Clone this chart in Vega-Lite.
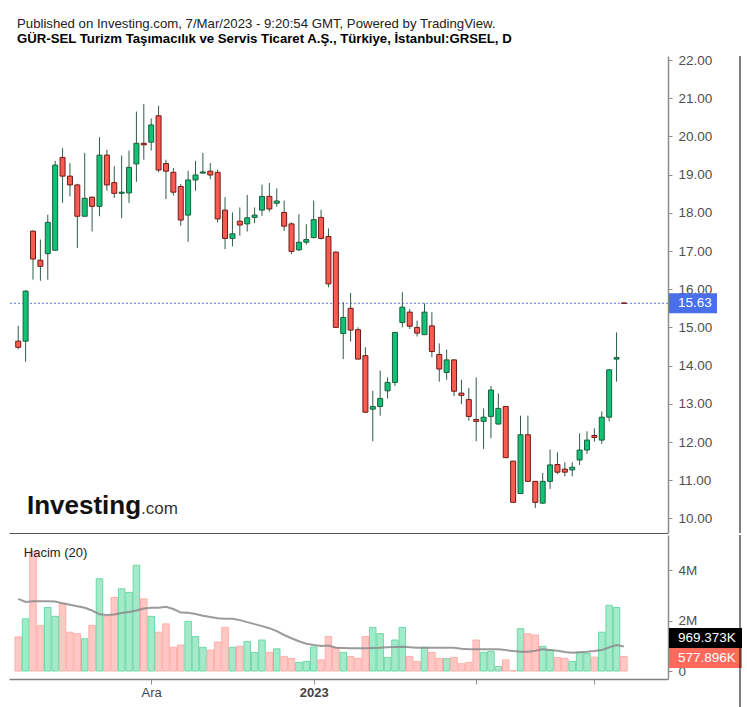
{
  "$schema": "https://vega.github.io/schema/vega-lite/v6.json",
  "padding": {"left": 8, "top": 16, "right": 6, "bottom": 9},
  "background": "#ffffff",
  "title": {
    "text": "Published on Investing.com, 7/Mar/2023 - 9:20:54 GMT, Powered by TradingView.",
    "subtitle": "GÜR-SEL Turizm Taşımacılık ve Servis Ticaret A.Ş., Türkiye, İstanbul:GRSEL, D",
    "anchor": "start", "frame": "group", "dx": 8,
    "font": "Liberation Sans", "fontSize": 13.2, "fontWeight": "normal", "color": "#222222",
    "subtitleFont": "Liberation Sans", "subtitleFontSize": 13.2, "subtitleFontWeight": "bold", "subtitleColor": "#000000",
    "subtitlePadding": 2, "offset": 7
  },
  "datasets": {
    "ohlc": [
      {"i":0,"o":14.64,"h":15.04,"l":14.43,"c":14.48,"v":1350000,"sma":2860000},
      {"i":1,"o":14.64,"h":15.97,"l":14.10,"c":15.95,"v":2070000,"sma":2740000},
      {"i":2,"o":17.52,"h":17.54,"l":16.25,"c":16.79,"v":4750000,"sma":2770000},
      {"i":3,"o":16.76,"h":17.30,"l":16.22,"c":16.60,"v":1810000,"sma":2770000},
      {"i":4,"o":16.93,"h":17.95,"l":16.25,"c":17.75,"v":2520000,"sma":2770000},
      {"i":5,"o":17.02,"h":19.36,"l":17.00,"c":19.25,"v":2170000,"sma":2760000},
      {"i":6,"o":19.45,"h":19.69,"l":18.26,"c":18.96,"v":2670000,"sma":2690000},
      {"i":7,"o":18.96,"h":19.30,"l":18.43,"c":18.73,"v":1540000,"sma":2630000},
      {"i":8,"o":18.73,"h":18.76,"l":17.08,"c":17.91,"v":1480000,"sma":2570000},
      {"i":9,"o":17.91,"h":19.57,"l":17.91,"c":18.38,"v":1280000,"sma":2510000},
      {"i":10,"o":18.41,"h":18.42,"l":17.51,"c":18.17,"v":1810000,"sma":2400000},
      {"i":11,"o":18.17,"h":19.98,"l":17.91,"c":19.51,"v":3660000,"sma":2250000},
      {"i":12,"o":19.51,"h":19.65,"l":18.58,"c":18.73,"v":2170000,"sma":2220000},
      {"i":13,"o":18.79,"h":19.22,"l":18.39,"c":18.51,"v":2920000,"sma":2240000},
      {"i":14,"o":18.51,"h":19.50,"l":17.86,"c":18.54,"v":3260000,"sma":2300000},
      {"i":15,"o":18.52,"h":19.63,"l":18.26,"c":19.19,"v":3120000,"sma":2340000},
      {"i":16,"o":19.28,"h":20.65,"l":18.81,"c":19.82,"v":4200000,"sma":2400000},
      {"i":17,"o":19.82,"h":20.85,"l":19.39,"c":19.78,"v":2860000,"sma":2480000},
      {"i":18,"o":19.85,"h":20.47,"l":19.63,"c":20.30,"v":2170000,"sma":2510000},
      {"i":19,"o":20.54,"h":20.80,"l":19.06,"c":19.12,"v":1540000,"sma":2510000},
      {"i":20,"o":19.29,"h":19.39,"l":18.36,"c":19.09,"v":1870000,"sma":2550000},
      {"i":21,"o":19.06,"h":19.17,"l":18.45,"c":18.54,"v":940000,"sma":2460000},
      {"i":22,"o":18.69,"h":18.75,"l":17.66,"c":17.81,"v":1030000,"sma":2320000},
      {"i":23,"o":17.94,"h":19.10,"l":17.24,"c":18.86,"v":1970000,"sma":2310000},
      {"i":24,"o":18.86,"h":19.36,"l":18.58,"c":18.99,"v":1370000,"sma":2260000},
      {"i":25,"o":19.04,"h":19.57,"l":19.02,"c":19.07,"v":940000,"sma":2190000},
      {"i":26,"o":19.09,"h":19.30,"l":18.88,"c":18.99,"v":830000,"sma":2140000},
      {"i":27,"o":19.06,"h":19.13,"l":17.75,"c":17.84,"v":1150000,"sma":2090000},
      {"i":28,"o":18.07,"h":18.41,"l":17.05,"c":17.33,"v":1730000,"sma":2070000},
      {"i":29,"o":17.33,"h":18.01,"l":17.12,"c":17.45,"v":940000,"sma":2070000},
      {"i":30,"o":17.78,"h":18.14,"l":17.40,"c":17.68,"v":980000,"sma":2020000},
      {"i":31,"o":17.71,"h":18.47,"l":17.51,"c":17.87,"v":1170000,"sma":1940000},
      {"i":32,"o":17.88,"h":18.14,"l":17.73,"c":17.94,"v":740000,"sma":1860000},
      {"i":33,"o":18.07,"h":18.74,"l":17.92,"c":18.43,"v":1230000,"sma":1780000},
      {"i":34,"o":18.43,"h":18.78,"l":18.03,"c":18.10,"v":740000,"sma":1700000},
      {"i":35,"o":18.25,"h":18.64,"l":18.16,"c":18.31,"v":880000,"sma":1580000},
      {"i":36,"o":18.01,"h":18.32,"l":17.53,"c":17.65,"v":580000,"sma":1430000},
      {"i":37,"o":17.71,"h":17.75,"l":16.92,"c":16.99,"v":500000,"sma":1300000},
      {"i":38,"o":17.03,"h":17.96,"l":17.00,"c":17.23,"v":340000,"sma":1180000},
      {"i":39,"o":17.23,"h":17.70,"l":17.17,"c":17.30,"v":380000,"sma":1080000},
      {"i":40,"o":17.35,"h":18.32,"l":17.33,"c":17.82,"v":950000,"sma":1030000},
      {"i":41,"o":17.88,"h":18.08,"l":17.30,"c":17.33,"v":440000,"sma":990000},
      {"i":42,"o":17.38,"h":17.59,"l":16.05,"c":16.14,"v":1370000,"sma":1010000},
      {"i":43,"o":16.97,"h":16.99,"l":15.00,"c":15.00,"v":940000,"sma":920000},
      {"i":44,"o":14.84,"h":15.66,"l":14.17,"c":15.26,"v":740000,"sma":910000},
      {"i":45,"o":15.50,"h":15.90,"l":14.63,"c":14.93,"v":580000,"sma":900000},
      {"i":46,"o":14.94,"h":15.00,"l":14.17,"c":14.17,"v":500000,"sma":900000},
      {"i":47,"o":14.26,"h":14.48,"l":12.76,"c":12.78,"v":1370000,"sma":900000},
      {"i":48,"o":12.86,"h":13.34,"l":12.02,"c":12.93,"v":1730000,"sma":910000},
      {"i":49,"o":12.93,"h":13.87,"l":12.69,"c":13.14,"v":1480000,"sma":920000},
      {"i":50,"o":13.34,"h":13.69,"l":13.14,"c":13.56,"v":540000,"sma":940000},
      {"i":51,"o":13.56,"h":14.88,"l":13.47,"c":14.87,"v":1230000,"sma":950000},
      {"i":52,"o":15.13,"h":15.92,"l":15.00,"c":15.53,"v":1730000,"sma":960000},
      {"i":53,"o":15.40,"h":15.48,"l":14.96,"c":15.03,"v":580000,"sma":940000},
      {"i":54,"o":15.00,"h":15.18,"l":14.76,"c":14.85,"v":380000,"sma":920000},
      {"i":55,"o":14.81,"h":15.63,"l":14.80,"c":15.40,"v":940000,"sma":920000},
      {"i":56,"o":15.04,"h":15.40,"l":14.22,"c":14.37,"v":740000,"sma":920000},
      {"i":57,"o":14.29,"h":14.58,"l":13.58,"c":13.91,"v":500000,"sma":920000},
      {"i":58,"o":13.82,"h":14.42,"l":13.63,"c":14.15,"v":490000,"sma":920000},
      {"i":59,"o":14.15,"h":14.16,"l":13.20,"c":13.33,"v":540000,"sma":920000},
      {"i":60,"o":13.28,"h":13.63,"l":12.99,"c":13.22,"v":290000,"sma":880000},
      {"i":61,"o":13.11,"h":13.41,"l":12.56,"c":12.67,"v":340000,"sma":860000},
      {"i":62,"o":12.59,"h":13.69,"l":12.02,"c":12.54,"v":1230000,"sma":860000},
      {"i":63,"o":12.54,"h":12.88,"l":11.82,"c":12.65,"v":740000,"sma":860000},
      {"i":64,"o":12.67,"h":13.47,"l":12.10,"c":13.36,"v":780000,"sma":860000},
      {"i":65,"o":12.47,"h":13.27,"l":12.46,"c":12.88,"v":180000,"sma":860000},
      {"i":66,"o":12.93,"h":12.94,"l":11.59,"c":11.59,"v":440000,"sma":830000},
      {"i":67,"o":11.50,"h":11.50,"l":10.42,"c":10.42,"v":10000,"sma":790000},
      {"i":68,"o":10.65,"h":12.69,"l":10.64,"c":12.19,"v":1680000,"sma":760000},
      {"i":69,"o":12.19,"h":12.69,"l":10.97,"c":10.97,"v":1480000,"sma":760000},
      {"i":70,"o":10.97,"h":10.98,"l":10.27,"c":10.42,"v":1430000,"sma":800000},
      {"i":71,"o":10.40,"h":11.19,"l":10.38,"c":10.97,"v":980000,"sma":860000},
      {"i":72,"o":10.97,"h":11.80,"l":10.77,"c":11.40,"v":830000,"sma":830000},
      {"i":73,"o":11.41,"h":11.73,"l":11.16,"c":11.21,"v":540000,"sma":800000},
      {"i":74,"o":11.29,"h":11.47,"l":11.10,"c":11.21,"v":500000,"sma":750000},
      {"i":75,"o":11.27,"h":11.47,"l":11.10,"c":11.34,"v":380000,"sma":720000},
      {"i":76,"o":11.53,"h":12.23,"l":11.40,"c":11.79,"v":740000,"sma":740000},
      {"i":77,"o":11.79,"h":12.28,"l":11.69,"c":12.05,"v":690000,"sma":760000},
      {"i":78,"o":12.17,"h":12.36,"l":12.01,"c":12.12,"v":550000,"sma":790000},
      {"i":79,"o":12.05,"h":12.80,"l":11.95,"c":12.65,"v":1540000,"sma":830000},
      {"i":80,"o":12.65,"h":13.90,"l":12.54,"c":13.89,"v":2610000,"sma":940000},
      {"i":81,"o":14.17,"h":14.87,"l":13.58,"c":14.21,"v":2520000,"sma":1030000},
      {"i":82,"o":15.64,"h":15.64,"l":15.63,"c":15.63,"v":577896,"sma":969373}
    ]
  },
  "spacing": 0,
  "vconcat": [
    {
      "width": 659,
      "height": 477,
      "data": {"name": "ohlc"},
      "layer": [
        {
          "transform": [{"filter": "datum.i == 82"}],
          "mark": {"type": "rule", "color": "#5a7ef0", "strokeDash": [2, 2], "strokeWidth": 1},
          "encoding": {
            "y": {"field": "c", "type": "quantitative", "scale": {"domain": [9.618, 22.105], "nice": false, "zero": false},
              "axis": {"orient": "right", "values": [10,11,12,13,14,15,16,17,18,19,20,21,22], "tickCount": 13, "format": ".2f", "title": null, "grid": false,
                "domainColor": "#8c8c8c", "domainWidth": 1.5, "tickColor": "#8c8c8c", "tickSize": 4, "labelColor": "#505050",
                "labelFont": "Liberation Sans", "labelFontSize": 13.5, "labelPadding": 6, "labelFlush": false, "labelOverlap": false}}
          }
        },
        {
          "mark": {"type": "rule", "color": "#2f5d47", "strokeWidth": 1},
          "encoding": {
            "x": {"field": "i", "type": "quantitative", "scale": {"domain": [-0.573, 87.29], "nice": false, "zero": false},
              "axis": {"orient": "bottom", "labels": false, "ticks": false, "title": null, "grid": false, "domainColor": "#555555", "domainWidth": 1.2}},
            "y": {"field": "l", "type": "quantitative", "scale": {"domain": [9.618, 22.105], "nice": false, "zero": false},
              "axis": {"orient": "right", "values": [10,11,12,13,14,15,16,17,18,19,20,21,22], "tickCount": 13, "format": ".2f", "title": null, "grid": false,
                "domainColor": "#8c8c8c", "domainWidth": 1.5, "tickColor": "#8c8c8c", "tickSize": 4, "labelColor": "#505050",
                "labelFont": "Liberation Sans", "labelFontSize": 13.5, "labelPadding": 6, "labelFlush": false, "labelOverlap": false}},
            "y2": {"field": "h"}
          }
        },
        {
          "mark": {"type": "bar", "size": 5, "strokeWidth": 1},
          "encoding": {
            "x": {"field": "i", "type": "quantitative"},
            "y": {"field": "o", "type": "quantitative", "scale": {"domain": [9.618, 22.105], "nice": false, "zero": false},
              "axis": {"orient": "right", "values": [10,11,12,13,14,15,16,17,18,19,20,21,22], "tickCount": 13, "format": ".2f", "title": null, "grid": false,
                "domainColor": "#8c8c8c", "domainWidth": 1.5, "tickColor": "#8c8c8c", "tickSize": 4, "labelColor": "#505050",
                "labelFont": "Liberation Sans", "labelFontSize": 13.5, "labelPadding": 6, "labelFlush": false, "labelOverlap": false}},
            "y2": {"field": "c"},
            "fill": {"condition": {"test": "datum.c >= datum.o", "value": "#10c176"}, "value": "#fa5b50"},
            "stroke": {"condition": {"test": "datum.c >= datum.o", "value": "#1c5e3e"}, "value": "#6e1b17"}
          }
        },
        {
          "transform": [{"filter": "datum.i == 82"}],
          "mark": {"type": "point", "shape": "M1,-10H49V10H1Z", "size": 4, "filled": true, "color": "#4a6fe8", "opacity": 1, "clip": false},
          "encoding": {"x": {"value": "width"}, "y": {"field": "c", "type": "quantitative"}}
        },
        {
          "transform": [{"filter": "datum.i == 82"}],
          "mark": {"type": "text", "align": "left", "baseline": "middle", "dx": 10, "color": "#ffffff", "font": "Liberation Sans", "fontSize": 13.5},
          "encoding": {"x": {"value": "width"}, "y": {"field": "c", "type": "quantitative"}, "text": {"field": "c", "type": "quantitative", "format": ".2f"}}
        },
        {
          "data": {"values": [{"t": "Investing"}]},
          "mark": {"type": "text", "align": "right", "baseline": "alphabetic", "font": "Liberation Sans", "fontSize": 26, "fontWeight": "bold", "color": "#111111"},
          "encoding": {"x": {"datum": 16.63}, "y": {"datum": 10.115}, "text": {"field": "t"}}
        },
        {
          "data": {"values": [{"t": ".com"}]},
          "mark": {"type": "text", "align": "left", "baseline": "alphabetic", "font": "Liberation Sans", "fontSize": 17, "color": "#333333"},
          "encoding": {"x": {"datum": 16.63}, "y": {"datum": 10.115}, "text": {"field": "t"}}
        },
        {
          "data": {"values": [{}]},
          "mark": {"type": "rule", "color": "#000000", "strokeWidth": 1, "clip": false, "xOffset": 72},
          "encoding": {"x": {"value": "width"}, "y": {"value": 0}, "y2": {"value": "height"}}
        }
      ]
    },
    {
      "width": 659,
      "height": 144,
      "data": {"name": "ohlc"},
      "layer": [
        {
          "mark": {"type": "bar", "size": 6.5, "strokeWidth": 1},
          "encoding": {
            "x": {"field": "i", "type": "quantitative", "scale": {"domain": [-0.573, 87.29], "nice": false, "zero": false},
              "axis": {"orient": "bottom", "values": [18, 40, 62, 78], "title": null, "grid": false,
                "labelExpr": "datum.value == 18 ? 'Ara' : datum.value == 40 ? '2023' : ''",
                "labelFontWeight": {"condition": {"test": "datum.value == 40", "value": "bold"}, "value": "normal"},
                "tickSize": 5, "tickColor": "#8c8c8c", "domainColor": "#808080", "domainWidth": 1.5,
                "labelColor": "#444444", "labelFont": "Liberation Sans", "labelFontSize": 13, "labelPadding": 2, "labelFlush": false}},
            "y": {"field": "v", "type": "quantitative", "scale": {"domain": [-317000, 5397000], "nice": false, "zero": false},
              "axis": {"orient": "right", "values": [0, 2000000, 4000000], "labelExpr": "datum.value == 0 ? '0' : format(datum.value / 1000000, 'd') + 'M'", "title": null, "grid": false,
                "domainColor": "#8c8c8c", "domainWidth": 1.5, "tickColor": "#8c8c8c", "tickSize": 4, "labelColor": "#505050",
                "labelFont": "Liberation Sans", "labelFontSize": 13.5, "labelPadding": 6, "labelFlush": false}},
            "fill": {"condition": {"test": "datum.c >= datum.o", "value": "#a5e9cb"}, "value": "#ffc8c4"},
            "stroke": {"condition": {"test": "datum.c >= datum.o", "value": "#6dd9a6"}, "value": "#ffaea8"}
          }
        },
        {
          "mark": {"type": "line", "color": "#8a8a8a", "strokeWidth": 2, "opacity": 0.85},
          "encoding": {"x": {"field": "i", "type": "quantitative"}, "y": {"field": "sma", "type": "quantitative"}}
        },
        {
          "data": {"values": [{"t": "Hacim (20)"}]},
          "mark": {"type": "text", "align": "left", "baseline": "middle", "font": "Liberation Sans", "fontSize": 13, "color": "#222222"},
          "encoding": {"x": {"datum": 0.76}, "y": {"datum": 4680000}, "text": {"field": "t"}}
        },
        {
          "transform": [{"filter": "datum.i == 82"}],
          "mark": {"type": "point", "shape": "M1,-18.5H74V1.5H1Z", "size": 4, "filled": true, "color": "#000000", "opacity": 1, "clip": false},
          "encoding": {"x": {"value": "width"}, "y": {"field": "sma", "type": "quantitative"}}
        },
        {
          "transform": [{"filter": "datum.i == 82"}, {"calculate": "format(datum.sma / 1000, '.3f') + 'K'", "as": "lbl"}],
          "mark": {"type": "text", "align": "left", "baseline": "middle", "dx": 10, "dy": -8.5, "color": "#ffffff", "font": "Liberation Sans", "fontSize": 13.5},
          "encoding": {"x": {"value": "width"}, "y": {"field": "sma", "type": "quantitative"}, "text": {"field": "lbl"}}
        },
        {
          "transform": [{"filter": "datum.i == 82"}],
          "mark": {"type": "point", "shape": "M1,-8.4H74V11.6H1Z", "size": 4, "filled": true, "color": "#ff6a5c", "opacity": 1, "clip": false},
          "encoding": {"x": {"value": "width"}, "y": {"field": "v", "type": "quantitative"}}
        },
        {
          "transform": [{"filter": "datum.i == 82"}, {"calculate": "format(datum.v / 1000, '.3f') + 'K'", "as": "lbl"}],
          "mark": {"type": "text", "align": "left", "baseline": "middle", "dx": 10, "dy": 1.5, "color": "#ffffff", "font": "Liberation Sans", "fontSize": 13.5},
          "encoding": {"x": {"value": "width"}, "y": {"field": "v", "type": "quantitative"}, "text": {"field": "lbl"}}
        },
        {
          "data": {"values": [{}]},
          "mark": {"type": "rule", "color": "#000000", "strokeWidth": 1, "clip": false, "xOffset": 72, "y2Offset": 30},
          "encoding": {"x": {"value": "width"}, "y": {"value": 0}, "y2": {"value": "height"}}
        }
      ]
    }
  ],
  "config": {"view": {"stroke": null}, "concat": {"spacing": 0}}
}
